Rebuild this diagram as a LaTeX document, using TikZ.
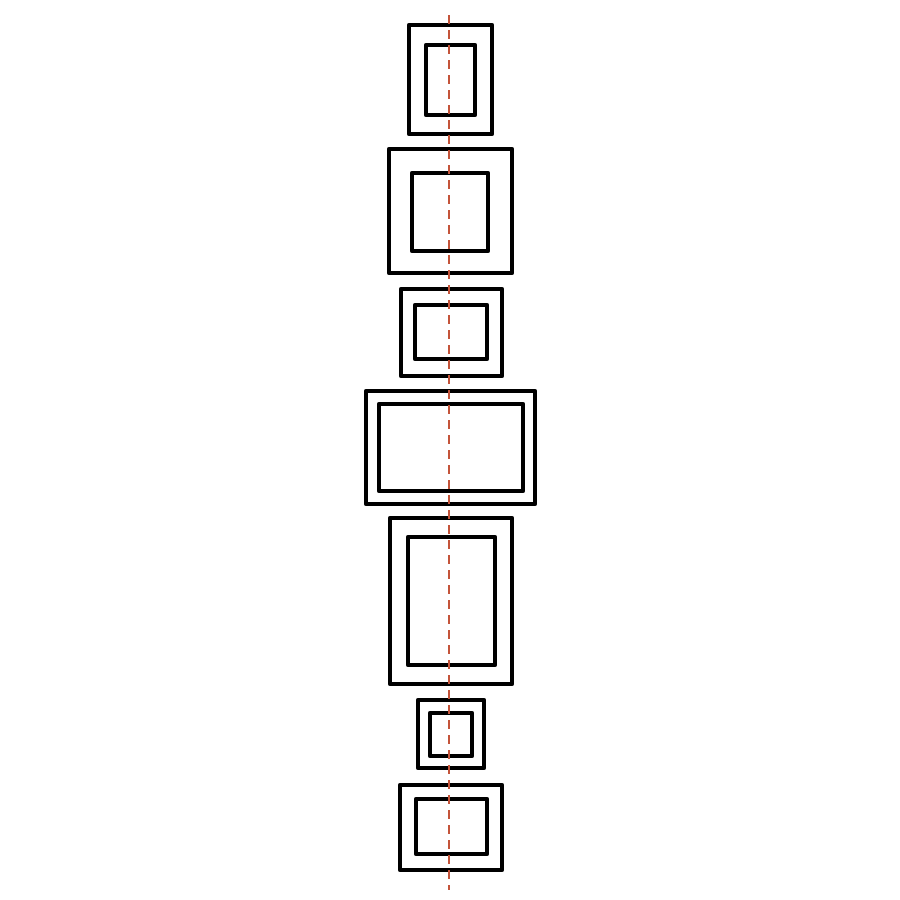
\documentclass[tikz,border=0pt]{standalone}
\begin{document}
\begin{tikzpicture}[x=1pt,y=-1pt,
  frame/.style={draw=black,line width=4.3pt,line join=round},
  axisline/.style={draw=axisred,line width=2.4pt,dash pattern=on 9pt off 6pt}]
\definecolor{axisred}{RGB}{196,84,58}
\useasboundingbox (0,0) rectangle (900,900);
\fill[white] (0,0) rectangle (900,900);
% box 1
\draw[frame] (409,25) rectangle (492,134);
\draw[frame] (426,45) rectangle (475,115);
% box 2
\draw[frame] (389,149) rectangle (512,273);
\draw[frame] (412,173) rectangle (488,251);
% box 3
\draw[frame] (401,289) rectangle (502,376);
\draw[frame] (415,305) rectangle (487,359);
% box 4
\draw[frame] (366,391) rectangle (535,504);
\draw[frame] (379,404) rectangle (523,491);
% box 5
\draw[frame] (390,518) rectangle (512,684);
\draw[frame] (408,537) rectangle (495,665);
% box 6
\draw[frame] (418,700) rectangle (484,768);
\draw[frame] (430,713) rectangle (472,756);
% box 7
\draw[frame] (400,785) rectangle (502,870);
\draw[frame] (416,799) rectangle (487,854);
% axis
\coordinate (axtop) at (449,15);
\coordinate (axbot) at (449,890);
\draw[axisline] (axtop) -- (axbot);
\end{tikzpicture}
\end{document}
